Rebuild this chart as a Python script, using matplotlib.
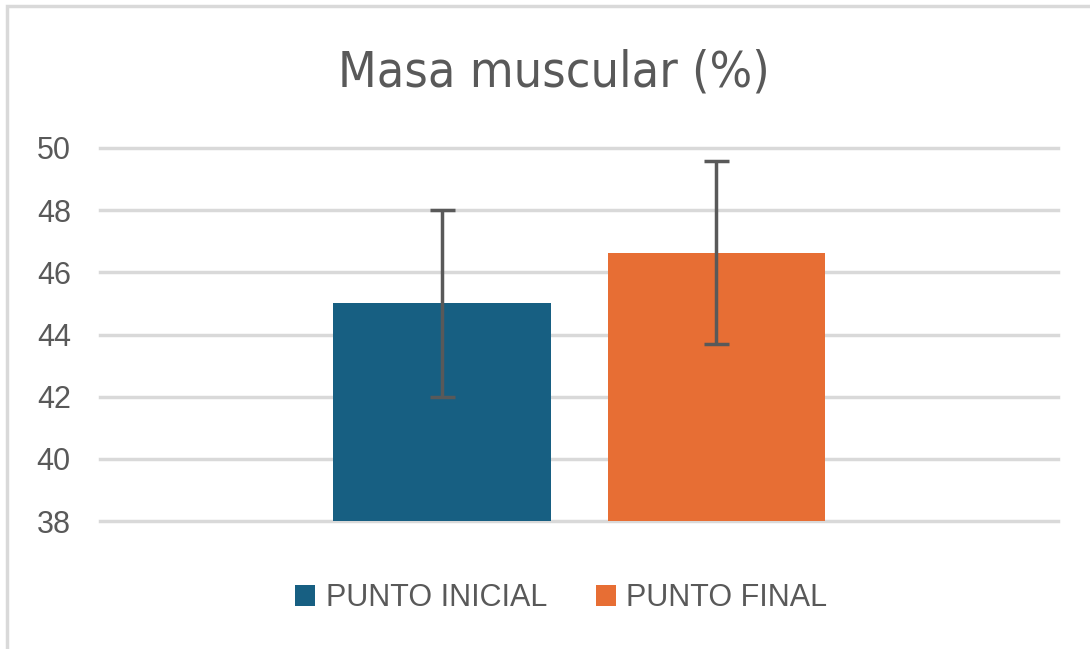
import numpy as np
import matplotlib.pyplot as plt
from matplotlib.patches import Rectangle

# Data
series = ['PUNTO INICIAL', 'PUNTO FINAL']
means = [45.0, 46.63]
errors = [3.0, 2.94]
colors = ['#175F82', '#E76E34']
yticks = [38, 40, 42, 44, 46, 48, 50]

text_grey = '#595959'
plt.rcParams['font.family'] = ['Liberation Sans', 'DejaVu Sans']

fig = plt.figure(figsize=(10.9, 6.49), dpi=100)
ax = fig.add_axes([0.0917, 0.197, 0.879, 0.575])

width = 0.453
gap = 0.119
offsets = [-(width + gap) / 2, (width + gap) / 2]
for i in range(len(series)):
    ax.bar(offsets[i], means[i] - yticks[0], bottom=yticks[0], width=width,
           color=colors[i], label=series[i], zorder=2)
    ax.errorbar(offsets[i], means[i], yerr=errors[i], fmt='none',
                ecolor=text_grey, elinewidth=2.5, capsize=9, capthick=2.5, zorder=3)

ax.set_xlim(-1, 1)
ax.set_ylim(yticks[0], yticks[-1])
ax.set_yticks(yticks)
ax.set_xticks([])
ax.yaxis.grid(True, color='#D9D9D9', linewidth=2.5, zorder=0)
for gl in ax.get_ygridlines():
    gl.set_clip_on(False)
ax.set_axisbelow(True)
for s in ax.spines.values():
    s.set_visible(False)
ax.tick_params(axis='y', length=0, pad=21, labelsize=22, labelcolor=text_grey)

fig.text(0.508, 0.888, 'Masa muscular (%)', ha='center', va='center',
         fontsize=36, color=text_grey, family='DejaVu Sans', stretch='condensed')

leg = fig.legend(loc='center', bbox_to_anchor=(0.515, 0.078), ncol=2, frameon=False,
                 fontsize=22, handlelength=0.65, handleheight=0.65, handletextpad=0.35,
                 columnspacing=1.6)
for t in leg.get_texts():
    t.set_color(text_grey)

# light frame around the chart (only top and left edges visible)
fig.patches.append(Rectangle((0.006, -0.1), 1.2, 1.09, transform=fig.transFigure,
                             fill=False, edgecolor='#D9D9D9', linewidth=2.5))

fig.savefig('out.png', dpi=100)
